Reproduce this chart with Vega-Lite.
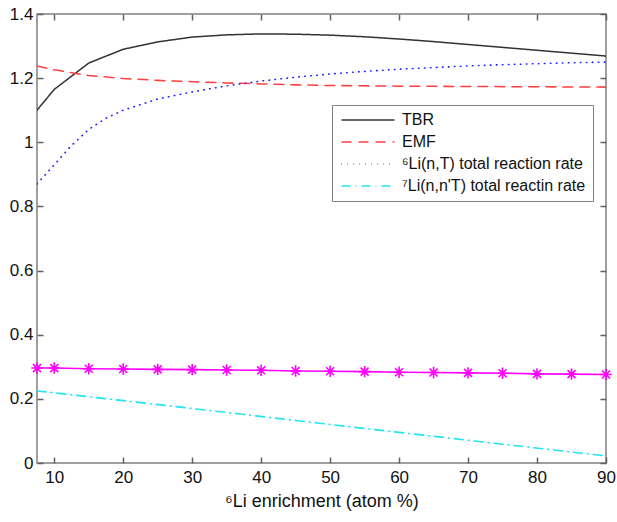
{
  "$schema": "https://vega.github.io/schema/vega-lite/v6.json",
  "width": 569,
  "height": 449,
  "autosize": {"type": "none"},
  "padding": {"left": 37, "top": 14, "right": 11, "bottom": 59},
  "background": "white",
  "config": {
    "view": {"stroke": "#808080", "strokeWidth": 1.5},
    "font": "Liberation Sans",
    "axis": {
      "grid": false,
      "domain": false,
      "ticks": true,
      "zindex": 1,
      "tickColor": "#606060",
      "tickSize": 6,
      "offset": -6,
      "tickWidth": 1.5,
      "labelFont": "Liberation Sans",
      "labelFontSize": 17,
      "labelColor": "#111",
      "titleFont": "Liberation Sans",
      "titleFontSize": 18,
      "titleFontWeight": "normal",
      "titleColor": "#111"
    },
    "legend": {
      "labelFont": "Liberation Sans",
      "labelFontSize": 16,
      "labelColor": "#111"
    }
  },
  "datasets": {
    "curves": [
      {"x": 7.5, "y": 1.10, "s": "TBR"},
      {"x": 10, "y": 1.165, "s": "TBR"},
      {"x": 15, "y": 1.247, "s": "TBR"},
      {"x": 20, "y": 1.29, "s": "TBR"},
      {"x": 25, "y": 1.313, "s": "TBR"},
      {"x": 30, "y": 1.328, "s": "TBR"},
      {"x": 35, "y": 1.335, "s": "TBR"},
      {"x": 40, "y": 1.338, "s": "TBR"},
      {"x": 45, "y": 1.337, "s": "TBR"},
      {"x": 50, "y": 1.334, "s": "TBR"},
      {"x": 55, "y": 1.329, "s": "TBR"},
      {"x": 60, "y": 1.322, "s": "TBR"},
      {"x": 65, "y": 1.314, "s": "TBR"},
      {"x": 70, "y": 1.305, "s": "TBR"},
      {"x": 75, "y": 1.296, "s": "TBR"},
      {"x": 80, "y": 1.287, "s": "TBR"},
      {"x": 85, "y": 1.278, "s": "TBR"},
      {"x": 90, "y": 1.269, "s": "TBR"},
      {"x": 7.5, "y": 1.238, "s": "EMF"},
      {"x": 10, "y": 1.226, "s": "EMF"},
      {"x": 15, "y": 1.208, "s": "EMF"},
      {"x": 20, "y": 1.199, "s": "EMF"},
      {"x": 25, "y": 1.193, "s": "EMF"},
      {"x": 30, "y": 1.189, "s": "EMF"},
      {"x": 35, "y": 1.185, "s": "EMF"},
      {"x": 40, "y": 1.182, "s": "EMF"},
      {"x": 45, "y": 1.179, "s": "EMF"},
      {"x": 50, "y": 1.177, "s": "EMF"},
      {"x": 60, "y": 1.175, "s": "EMF"},
      {"x": 70, "y": 1.174, "s": "EMF"},
      {"x": 80, "y": 1.173, "s": "EMF"},
      {"x": 90, "y": 1.172, "s": "EMF"},
      {"x": 7.5, "y": 0.87, "s": "Li6"},
      {"x": 10, "y": 0.93, "s": "Li6"},
      {"x": 12.5, "y": 0.99, "s": "Li6"},
      {"x": 15, "y": 1.04, "s": "Li6"},
      {"x": 17.5, "y": 1.075, "s": "Li6"},
      {"x": 20, "y": 1.10, "s": "Li6"},
      {"x": 25, "y": 1.135, "s": "Li6"},
      {"x": 30, "y": 1.157, "s": "Li6"},
      {"x": 35, "y": 1.176, "s": "Li6"},
      {"x": 40, "y": 1.191, "s": "Li6"},
      {"x": 45, "y": 1.203, "s": "Li6"},
      {"x": 50, "y": 1.213, "s": "Li6"},
      {"x": 55, "y": 1.221, "s": "Li6"},
      {"x": 60, "y": 1.228, "s": "Li6"},
      {"x": 65, "y": 1.233, "s": "Li6"},
      {"x": 70, "y": 1.238, "s": "Li6"},
      {"x": 75, "y": 1.242, "s": "Li6"},
      {"x": 80, "y": 1.245, "s": "Li6"},
      {"x": 85, "y": 1.248, "s": "Li6"},
      {"x": 90, "y": 1.25, "s": "Li6"},
      {"x": 7.5, "y": 0.225, "s": "Li7"},
      {"x": 30, "y": 0.17, "s": "Li7"},
      {"x": 50, "y": 0.12, "s": "Li7"},
      {"x": 70, "y": 0.071, "s": "Li7"},
      {"x": 90, "y": 0.022, "s": "Li7"}
    ],
    "mag": [
      {"x": 7.5, "y": 0.296},
      {"x": 10, "y": 0.296},
      {"x": 15, "y": 0.294},
      {"x": 20, "y": 0.293},
      {"x": 25, "y": 0.292},
      {"x": 30, "y": 0.291},
      {"x": 35, "y": 0.29},
      {"x": 40, "y": 0.289},
      {"x": 45, "y": 0.287},
      {"x": 50, "y": 0.286},
      {"x": 55, "y": 0.285},
      {"x": 60, "y": 0.283},
      {"x": 65, "y": 0.282},
      {"x": 70, "y": 0.281},
      {"x": 75, "y": 0.28},
      {"x": 80, "y": 0.278},
      {"x": 85, "y": 0.277},
      {"x": 90, "y": 0.276}
    ]
  },
  "resolve": {"axis": {"x": "independent", "y": "independent"}},
  "layer": [
    {
      "data": {"name": "curves"},
      "mark": {"type": "line", "strokeCap": "round", "clip": true},
      "encoding": {
        "x": {
          "field": "x", "type": "quantitative",
          "scale": {"domain": [7.5, 90], "nice": false, "zero": false},
          "axis": {"values": [10, 20, 30, 40, 50, 60, 70, 80, 90], "labelPadding": 6, "title": "⁶Li enrichment (atom %)", "titlePadding": 7, "labelFlush": false}
        },
        "y": {
          "field": "y", "type": "quantitative",
          "scale": {"domain": [0, 1.4], "nice": false},
          "axis": {"values": [0, 0.2, 0.4, 0.6, 0.8, 1, 1.2, 1.4], "format": "~g", "labelPadding": 4, "title": null}
        },
        "strokeWidth": {
          "field": "s", "type": "nominal",
          "scale": {"domain": ["TBR", "EMF", "Li6", "Li7"], "range": [1.5, 1.6, 3.6, 1.8]},
          "legend": null
        },
        "color": {
          "field": "s", "type": "nominal",
          "scale": {"domain": ["TBR", "EMF", "Li6", "Li7"], "range": ["#333333", "#ff4040", "#1a1aff", "#22e5f0"]},
          "legend": {
            "title": null,
            "orient": "none",
            "legendX": 295,
            "legendY": 91,
            "strokeColor": "#808080",
            "fillColor": "white",
            "padding": 7,
            "symbolType": "M-5,0L5,0",
            "symbolSize": 112,
            "symbolOffset": 21,
            "labelOffset": 26,
            "symbolStrokeWidth": 2.6,
            "rowPadding": 6,
            "labelLimit": 400,
            "labelExpr": "datum.value == 'Li6' ? '⁶Li(n,T) total reaction rate' : datum.value == 'Li7' ? '⁷Li(n,n\\'T) total reactin rate' : datum.value"
          }
        },
        "strokeDash": {
          "field": "s", "type": "nominal",
          "scale": {"domain": ["TBR", "EMF", "Li6", "Li7"], "range": [[1, 0], [10, 7], [0.5, 5.5], [9, 5, 1, 5]]},
          "legend": {
            "title": null,
            "orient": "none",
            "legendX": 295,
            "legendY": 91,
            "strokeColor": "#808080",
            "fillColor": "white",
            "padding": 7,
            "symbolType": "M-5,0L5,0",
            "symbolSize": 112,
            "symbolOffset": 21,
            "labelOffset": 26,
            "symbolStrokeWidth": 2.6,
            "rowPadding": 6,
            "labelLimit": 400,
            "labelExpr": "datum.value == 'Li6' ? '⁶Li(n,T) total reaction rate' : datum.value == 'Li7' ? '⁷Li(n,n\\'T) total reactin rate' : datum.value"
          }
        }
      }
    },
    {
      "data": {"name": "mag"},
      "mark": {"type": "line", "color": "#ff00ff", "strokeWidth": 1.6},
      "encoding": {
        "x": {"field": "x", "type": "quantitative", "axis": {"orient": "top", "labels": false, "title": null, "values": [10, 20, 30, 40, 50, 60, 70, 80, 90]}},
        "y": {"field": "y", "type": "quantitative", "axis": {"orient": "right", "labels": false, "title": null, "values": [0, 0.2, 0.4, 0.6, 0.8, 1, 1.2, 1.4]}}
      }
    },
    {
      "data": {"name": "mag"},
      "mark": {"type": "point", "shape": "M-1,0L1,0M0,-1L0,1M-0.7,-0.7L0.7,0.7M-0.7,0.7L0.7,-0.7", "filled": false, "stroke": "#ff00ff", "strokeWidth": 1.6, "size": 130, "opacity": 1},
      "encoding": {
        "x": {"field": "x", "type": "quantitative", "axis": null},
        "y": {"field": "y", "type": "quantitative", "axis": null}
      }
    }
  ]
}
